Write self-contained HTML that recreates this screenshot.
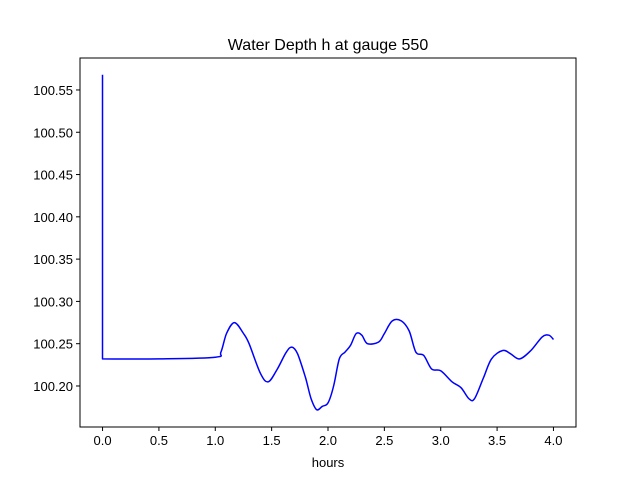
<!DOCTYPE html>
<html><head><meta charset="utf-8"><style>
html,body{margin:0;padding:0;background:#fff;}
svg{display:block;font-family:"Liberation Sans","DejaVu Sans",sans-serif;}
</style></head><body>
<svg id="chart" width="640" height="480">
<rect width="640" height="480" fill="#fff"/>
<text x="328" y="50" text-anchor="middle" font-size="16">Water Depth h at gauge 550</text>
<g id="ticks"></g>
<path id="series" fill="none" stroke="#0000ff" stroke-width="1.5" stroke-linejoin="round"/>
<rect x="80" y="58" width="496" height="369" fill="none" stroke="#000" stroke-width="1"/>
<text x="328" y="467" text-anchor="middle" font-size="13">hours</text>
</svg>
<script>
const hours = [0,0,0.5,1.0,1.05,1.1,1.17,1.25,1.3,1.4,1.47,1.55,1.63,1.68,1.73,1.8,1.85,1.9,1.95,2.0,2.05,2.1,2.15,2.2,2.25,2.3,2.35,2.45,2.5,2.57,2.65,2.72,2.78,2.85,2.92,3.0,3.1,3.18,3.25,3.3,3.38,3.45,3.55,3.62,3.7,3.8,3.9,3.96,4.0];
const depth = [100.568,100.232,100.232,100.234,100.24,100.262,100.275,100.262,100.25,100.215,100.205,100.22,100.24,100.246,100.238,100.21,100.185,100.172,100.176,100.18,100.2,100.232,100.24,100.248,100.262,100.26,100.25,100.252,100.262,100.277,100.277,100.265,100.24,100.236,100.22,100.218,100.205,100.198,100.185,100.185,100.21,100.232,100.242,100.238,100.232,100.242,100.258,100.26,100.255];
const xTicks = [0,0.5,1.0,1.5,2.0,2.5,3.0,3.5,4.0];
const yTicks = [100.20,100.25,100.30,100.35,100.40,100.45,100.50,100.55];
const X0=80,X1=576,Y0=58,Y1=427,xmin=-0.2,xmax=4.2,ymin=100.1515,ymax=100.5878;
function sx(v){return X0+(v-xmin)/(xmax-xmin)*(X1-X0);}
function sy(v){return Y1-(v-ymin)/(ymax-ymin)*(Y1-Y0);}
const NS="http://www.w3.org/2000/svg";
const g=document.getElementById('ticks');
xTicks.forEach(t=>{
  const l=document.createElementNS(NS,'line');
  l.setAttribute('x1',sx(t));l.setAttribute('x2',sx(t));l.setAttribute('y1',Y1);l.setAttribute('y2',Y1+4);l.setAttribute('stroke','#000');
  
  
  g.appendChild(l);
  const tx=document.createElementNS(NS,'text');
  tx.setAttribute('x',sx(t));tx.setAttribute('y',Y1+18);tx.setAttribute('text-anchor','middle');tx.setAttribute('font-size','13');
  tx.textContent=t.toFixed(1);
  
  
  g.appendChild(tx);
});
yTicks.forEach(t=>{
  const l=document.createElementNS(NS,'line');
  l.setAttribute('x1',X0-4);l.setAttribute('x2',X0);l.setAttribute('y1',sy(t));l.setAttribute('y2',sy(t));l.setAttribute('stroke','#000');
  
  
  g.appendChild(l);
  const tx=document.createElementNS(NS,'text');
  tx.setAttribute('x',X0-7);tx.setAttribute('y',sy(t)+5);tx.setAttribute('text-anchor','end');tx.setAttribute('font-size','13');
  tx.textContent=t.toFixed(2);
  
  
  g.appendChild(tx);
});
const P=hours.map((h,i)=>[sx(h),sy(depth[i])]);
let d='M'+P[0][0].toFixed(1)+','+P[0][1].toFixed(1)+' L'+P[1][0].toFixed(1)+','+P[1][1].toFixed(1);
for(let i=1;i<P.length-1;i++){
  const p0=P[Math.max(i-1,1)],p1=P[i],p2=P[i+1],p3=P[Math.min(i+2,P.length-1)];
  const c1=[p1[0]+(p2[0]-p0[0])/6,p1[1]+(p2[1]-p0[1])/6];
  const c2=[p2[0]-(p3[0]-p1[0])/6,p2[1]-(p3[1]-p1[1])/6];
  d+=' C'+c1[0].toFixed(1)+','+c1[1].toFixed(1)+' '+c2[0].toFixed(1)+','+c2[1].toFixed(1)+' '+p2[0].toFixed(1)+','+p2[1].toFixed(1);
}
document.getElementById('series').setAttribute('d',d);
</script>
</body></html>
